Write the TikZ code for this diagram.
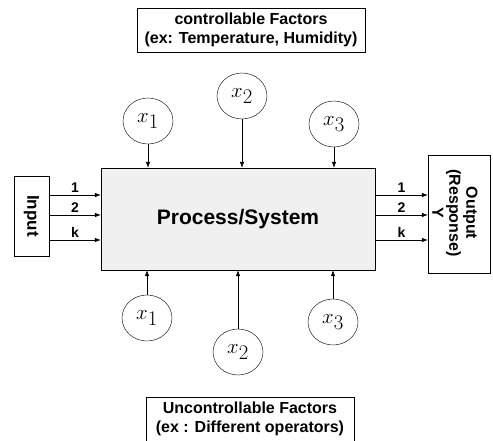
\documentclass[tikz,border=0pt]{standalone}
\usepackage{fontspec}
\setsansfont{Liberation Sans}
\usetikzlibrary{arrows.meta,shapes.geometric}
\begin{document}
\begin{tikzpicture}[x=1pt,y=-1pt,
  txt/.style={font=\sffamily\bfseries\fontsize{16}{19}\selectfont},
  lbl/.style={font=\sffamily\bfseries\fontsize{14}{16}\selectfont},
  factor/.style={draw,ellipse,minimum width=50pt,minimum height=46pt,inner sep=0pt,font=\fontsize{20}{20}\selectfont},
  arr/.style={-{Latex[length=6pt,width=4.5pt]},semithick},
  boxline/.style={draw,thin}]
\useasboundingbox (0,0) rectangle (493,441);
% top box
\node[boxline,txt,align=center,minimum width=228pt,minimum height=44pt,inner sep=1pt] (ctrl) at (251,30)
  {controllable Factors\\(ex: Temperature, Humidity)};
% main box
\node[boxline,fill=gray!12,minimum width=274pt,minimum height=102pt,inner sep=0pt,
  font=\sffamily\bfseries\fontsize{21}{24}\selectfont] (proc) at (238,219) {Process/System};
% input box
\node[boxline,minimum width=35pt,minimum height=80pt,inner sep=0pt] (inp) at (31.5,216) {};
\node[font=\sffamily\bfseries\fontsize{17}{19}\selectfont,rotate=-90] (inptxt) at (inp.center) {Input};
% output box
\node[boxline,minimum width=62pt,minimum height=118pt,inner sep=0pt] (out) at (459,214) {};
\node[font=\sffamily\bfseries\fontsize{16}{17}\selectfont,rotate=-90,align=center] (outtxt) at (455,213) {Output\\(Response)\\Y};
% input arrows
\coordinate (i1) at (49,195);
\coordinate (i2) at (49,215);
\coordinate (i3) at (49,240);
\draw[arr] (i1) -- (i1 -| proc.west) node[lbl,pos=0.5,above=-1pt] (li1) {1};
\draw[arr] (i2) -- (i2 -| proc.west) node[lbl,pos=0.5,above=-1pt] (li2) {2};
\draw[arr] (i3) -- (i3 -| proc.west) node[lbl,pos=0.5,above=-1pt] (li3) {k};
% output arrows
\coordinate (o1) at (375,195);
\coordinate (o2) at (375,215);
\coordinate (o3) at (375,240);
\draw[arr] (o1) -- (o1 -| out.west) node[lbl,pos=0.5,above=-1pt] (lo1) {1};
\draw[arr] (o2) -- (o2 -| out.west) node[lbl,pos=0.5,above=-1pt] (lo2) {2};
\draw[arr] (o3) -- (o3 -| out.west) node[lbl,pos=0.5,above=-1pt] (lo3) {k};
% top factors
\node[factor] (t1) at (148,121) {$x_{\textstyle 1}$};
\node[factor] (t2) at (242,96) {$x_{\textstyle 2}$};
\node[factor] (t3) at (334,124) {$x_{\textstyle 3}$};
\draw[arr] (t1.south) -- (t1.south |- proc.north);
\draw[arr] (t2.south) -- (t2.south |- proc.north);
\draw[arr] (t3.south) -- (t3.south |- proc.north);
% bottom factors
\node[factor] (b1) at (147,318) {$x_{\textstyle 1}$};
\node[factor] (b2) at (238,352) {$x_{\textstyle 2}$};
\node[factor] (b3) at (333,322) {$x_{\textstyle 3}$};
\draw[arr] (b1.north) -- (b1.north |- proc.south);
\draw[arr] (b2.north) -- (b2.north |- proc.south);
\draw[arr] (b3.north) -- (b3.north |- proc.south);
% bottom box
\node[boxline,txt,align=center,minimum width=208pt,minimum height=44pt,inner sep=1pt,anchor=north] (unc) at (250,397)
  {Uncontrollable Factors\\(ex : Different operators)};
\end{tikzpicture}
\end{document}
